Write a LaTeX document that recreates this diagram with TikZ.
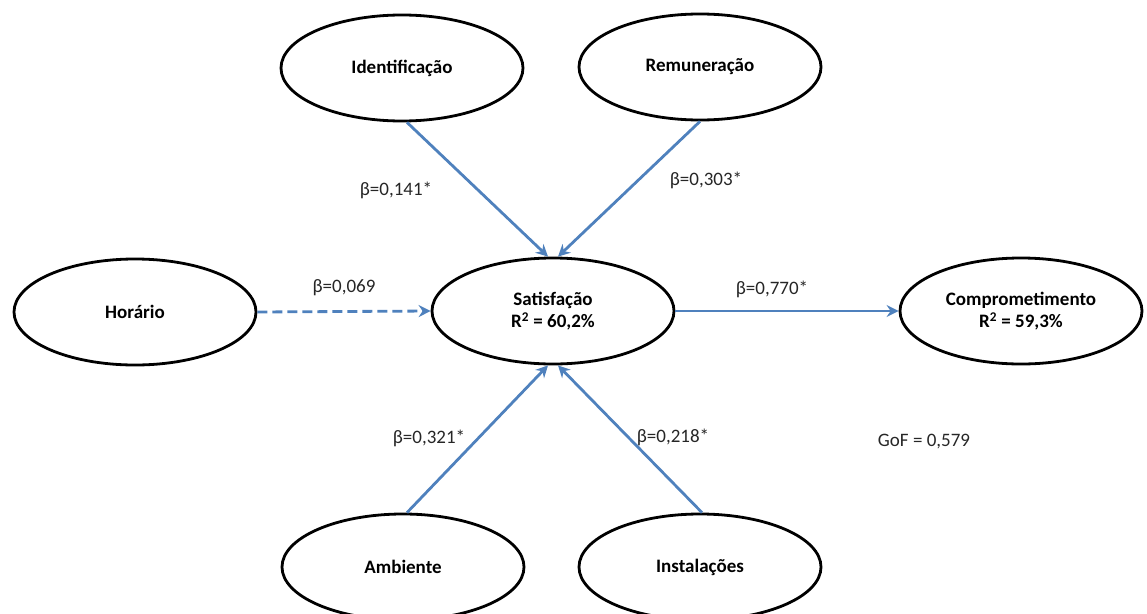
\documentclass[tikz,border=0pt]{standalone}
\usepackage{fontspec}
\setmainfont{Carlito}
\usetikzlibrary{arrows.meta,shapes.geometric}
\definecolor{pathblue}{HTML}{4F81BD}
\tikzset{
  latent/.style={ellipse,draw=black,line width=2.8pt,minimum width=242pt,minimum height=106pt,inner sep=0pt,align=center,font=\fontsize{19}{22}\selectfont\bfseries},
  path/.style={draw=pathblue,line width=2.8pt,-{Stealth[length=12pt,width=12pt,inset=4pt]}},
  coef/.style={font=\fontsize{19}{22}\selectfont,text=black!85,inner sep=0pt}
}
\begin{document}
\begin{tikzpicture}[x=1pt,y=-1pt]
\useasboundingbox (0,0) rectangle (1147,613);
\node[latent] (iden) at (402,68) {Identificação};
\node[latent] (rem) at (700,67) {Remuneração};
\node[latent] (hor) at (135,312) {Horário};
\node[latent] (sat) at (553,311) {Satisfação\\R\textsuperscript{2} = 60,2\%};
\node[latent] (comp) at (1021,311) {Comprometimento\\R\textsuperscript{2} = 59,3\%};
\node[latent] (amb) at (403,567) {Ambiente};
\node[latent] (inst) at (700,567) {Instalações};

\draw[path] ([xshift=5pt]iden.south) -- ([xshift=-5pt]sat.north);
\draw[path] (rem.south) -- ([xshift=5pt]sat.north);
\draw[path,dash pattern=on 10pt off 5pt] (hor.east) -- (sat.west);
\draw[path] (sat.east) -- (comp.west);
\draw[path] ([xshift=4pt]amb.north) -- ([xshift=-5pt]sat.south);
\draw[path] ([xshift=2pt]inst.north) -- ([xshift=5pt]sat.south);

\node[coef] (l1) at (396,190) {β=0,141*};
\node[coef] (l2) at (706,180) {β=0,303*};
\node[coef] (l3) at (344,288) {β=0,069};
\node[coef] (l4) at (772,289) {β=0,770*};
\node[coef] (l5) at (429,438) {β=0,321*};
\node[coef] (l6) at (673,437) {β=0,218*};
\node[coef] (gof) at (924,442) {GoF = 0,579};
\end{tikzpicture}
\end{document}
